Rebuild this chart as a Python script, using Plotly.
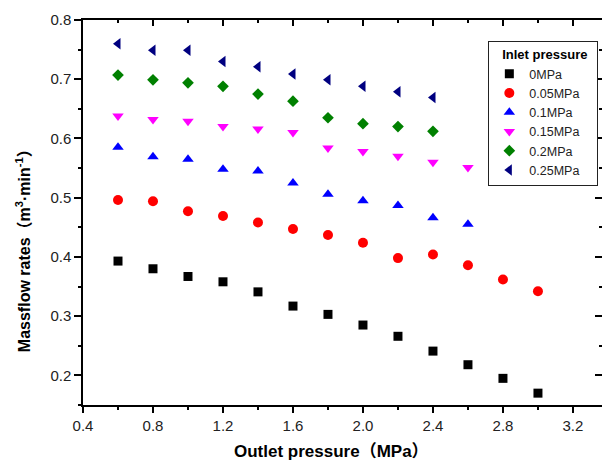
import plotly.graph_objects as go

outlet = [0.6, 0.8, 1.0, 1.2, 1.4, 1.6, 1.8, 2.0, 2.2, 2.4, 2.6, 2.8, 3.0]

flow_0 = [0.393, 0.380, 0.367, 0.358, 0.341, 0.317, 0.303, 0.285, 0.266, 0.241, 0.218, 0.195, 0.170]
flow_005 = [0.496, 0.494, 0.477, 0.469, 0.458, 0.447, 0.437, 0.424, 0.398, 0.404, 0.386, 0.362, 0.342]
flow_01 = [0.585, 0.569, 0.565, 0.548, 0.545, 0.525, 0.506, 0.495, 0.487, 0.466, 0.455]
flow_015 = [0.638, 0.632, 0.629, 0.620, 0.616, 0.610, 0.584, 0.578, 0.570, 0.560, 0.551]
flow_02 = [0.707, 0.699, 0.694, 0.688, 0.675, 0.663, 0.635, 0.625, 0.620, 0.612]
flow_025 = [0.760, 0.749, 0.749, 0.730, 0.721, 0.709, 0.699, 0.688, 0.679, 0.669]

series_names = ["0MPa", "0.05MPa", "0.1MPa", "0.15MPa", "0.2MPa", "0.25MPa"]
series_values = [flow_0, flow_005, flow_01, flow_015, flow_02, flow_025]
symbols = ["square", "circle", "triangle-up", "triangle-down", "diamond", "triangle-left"]
colors = ["#000000", "#FF0000", "#0000FF", "#FF00FF", "#008000", "#000080"]
sizes = [9, 10, 10, 10, 9, 10]

x_ticks = [0.4, 0.8, 1.2, 1.6, 2.0, 2.4, 2.8, 3.2]
x_ticklabels = ["0.4", "0.8", "1.2", "1.6", "2.0", "2.4", "2.8", "3.2"]
y_ticks = [0.2, 0.3, 0.4, 0.5, 0.6, 0.7, 0.8]

XR = [0.4, 3.366]
YR = [0.15, 0.8]

fig = go.Figure()
for name, vals, sym, col, sz in zip(series_names, series_values, symbols, colors, sizes):
    fig.add_trace(go.Scatter(
        x=outlet[:len(vals)], y=vals, mode="markers", name=name,
        marker=dict(symbol=sym, color=col, size=sz, line=dict(width=0)),
    ))

# invisible copies bound to the mirrored (top / right) axes so they get drawn
fig.add_trace(go.Scatter(
    x=outlet, y=flow_0, xaxis="x2", yaxis="y", mode="markers",
    marker=dict(opacity=0, size=1), showlegend=False, hoverinfo="skip",
))
fig.add_trace(go.Scatter(
    x=outlet, y=flow_0, xaxis="x", yaxis="y2", mode="markers",
    marker=dict(opacity=0, size=1), showlegend=False, hoverinfo="skip",
))

font_family = "Liberation Sans, Arial, Noto Sans CJK SC, sans-serif"

fig.update_layout(
    width=605, height=467,
    margin=dict(l=83, r=3, t=20, b=62),
    plot_bgcolor="white", paper_bgcolor="white",
    font=dict(family=font_family, color="#111111"),
    showlegend=True,
    legend=dict(
        x=0.781, y=0.945, xanchor="left", yanchor="top",
        bordercolor="#222222", borderwidth=1, bgcolor="white",
        font=dict(size=12.5, color="#222222"),
        title=dict(text="&nbsp;&nbsp;&nbsp;<b>Inlet pressure</b>&nbsp;&nbsp;", font=dict(size=13, color="#000000")),
        tracegroupgap=0,
    ),
    xaxis=dict(
        range=XR, tickvals=x_ticks, ticktext=x_ticklabels,
        ticks="outside", ticklen=6, tickwidth=1.5, tickcolor="#000000",
        showline=True, linecolor="#000000", linewidth=1.5,
        showgrid=False, zeroline=False,
        tickfont=dict(size=15, color="#222222"),
        minor=dict(dtick=0.2, tick0=0.4, ticks="outside", ticklen=3, tickwidth=1.5, tickcolor="#000000", showgrid=False),
    ),
    yaxis=dict(
        range=YR, tickvals=y_ticks, tickformat=".1f",
        ticks="outside", ticklen=7, tickwidth=1.5, tickcolor="#000000",
        showline=True, linecolor="#000000", linewidth=1.5,
        showgrid=False, zeroline=False,
        tickfont=dict(size=15, color="#222222"),
        minor=dict(dtick=0.05, tick0=0.15, ticks="outside", ticklen=3, tickwidth=1.5, tickcolor="#000000", showgrid=False),
    ),
    xaxis2=dict(
        overlaying="x", side="top", anchor="y", range=XR, tickvals=x_ticks,
        showticklabels=False, ticks="inside", ticklen=6, tickwidth=1.5, tickcolor="#000000",
        showline=True, linecolor="#000000", linewidth=1.5, showgrid=False, zeroline=False,
        minor=dict(dtick=0.2, tick0=0.4, ticks="inside", ticklen=3, tickwidth=1.5, tickcolor="#000000", showgrid=False),
    ),
    yaxis2=dict(
        overlaying="y", side="right", anchor="x", range=YR, tickvals=y_ticks,
        showticklabels=False, ticks="inside", ticklen=7, tickwidth=1.5, tickcolor="#000000",
        showline=False, showgrid=False, zeroline=False,
        minor=dict(dtick=0.05, tick0=0.15, ticks="inside", ticklen=3, tickwidth=1.5, tickcolor="#000000", showgrid=False),
    ),
    annotations=[
        dict(text="<b>Outlet pressure（MPa）</b>", xref="paper", yref="paper",
             x=0.479, y=-0.122, xanchor="center", yanchor="middle", showarrow=False,
             font=dict(size=17, color="#000000")),
        dict(text="<b>Massflow rates（m<sup>3</sup>·min<sup>-1</sup>）</b>", xref="paper", yref="paper",
             x=-0.1156, y=0.41, xanchor="center", yanchor="middle", showarrow=False, textangle=-90,
             font=dict(size=16, color="#000000")),
    ],
)

fig.write_html("out.html", config={"displayModeBar": False},
               post_script="document.body.style.margin='0';document.body.style.overflow='hidden';")
